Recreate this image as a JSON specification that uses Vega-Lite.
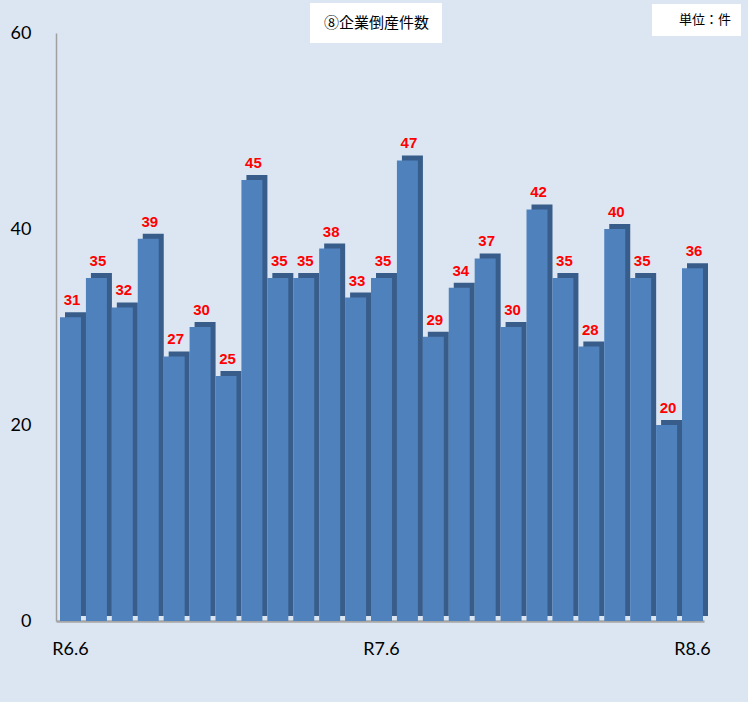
{
  "$schema": "https://vega.github.io/schema/vega-lite/v6.json",
  "autosize": "none",
  "width": 648,
  "height": 588,
  "padding": {"left": 56, "top": 33, "right": 44, "bottom": 81},
  "background": "#DCE6F2",
  "config": {
    "view": {"stroke": null},
    "axis": {"labelFont": "Lato", "labelFontSize": 18, "labelColor": "#000000", "ticks": false, "grid": false, "title": null}
  },
  "data": {
    "values": [
      {"month": "R6.6", "count": 31, "series": "⑧企業倒産件数", "unit": "単位：件"},
      {"month": "R6.7", "count": 35, "series": "⑧企業倒産件数", "unit": "単位：件"},
      {"month": "R6.8", "count": 32, "series": "⑧企業倒産件数", "unit": "単位：件"},
      {"month": "R6.9", "count": 39, "series": "⑧企業倒産件数", "unit": "単位：件"},
      {"month": "R6.10", "count": 27, "series": "⑧企業倒産件数", "unit": "単位：件"},
      {"month": "R6.11", "count": 30, "series": "⑧企業倒産件数", "unit": "単位：件"},
      {"month": "R6.12", "count": 25, "series": "⑧企業倒産件数", "unit": "単位：件"},
      {"month": "R7.1", "count": 45, "series": "⑧企業倒産件数", "unit": "単位：件"},
      {"month": "R7.2", "count": 35, "series": "⑧企業倒産件数", "unit": "単位：件"},
      {"month": "R7.3", "count": 35, "series": "⑧企業倒産件数", "unit": "単位：件"},
      {"month": "R7.4", "count": 38, "series": "⑧企業倒産件数", "unit": "単位：件"},
      {"month": "R7.5", "count": 33, "series": "⑧企業倒産件数", "unit": "単位：件"},
      {"month": "R7.6", "count": 35, "series": "⑧企業倒産件数", "unit": "単位：件"},
      {"month": "R7.7", "count": 47, "series": "⑧企業倒産件数", "unit": "単位：件"},
      {"month": "R7.8", "count": 29, "series": "⑧企業倒産件数", "unit": "単位：件"},
      {"month": "R7.9", "count": 34, "series": "⑧企業倒産件数", "unit": "単位：件"},
      {"month": "R7.10", "count": 37, "series": "⑧企業倒産件数", "unit": "単位：件"},
      {"month": "R7.11", "count": 30, "series": "⑧企業倒産件数", "unit": "単位：件"},
      {"month": "R7.12", "count": 42, "series": "⑧企業倒産件数", "unit": "単位：件"},
      {"month": "R8.1", "count": 35, "series": "⑧企業倒産件数", "unit": "単位：件"},
      {"month": "R8.2", "count": 28, "series": "⑧企業倒産件数", "unit": "単位：件"},
      {"month": "R8.3", "count": 40, "series": "⑧企業倒産件数", "unit": "単位：件"},
      {"month": "R8.4", "count": 35, "series": "⑧企業倒産件数", "unit": "単位：件"},
      {"month": "R8.5", "count": 20, "series": "⑧企業倒産件数", "unit": "単位：件"},
      {"month": "R8.6", "count": 36, "series": "⑧企業倒産件数", "unit": "単位：件"}
    ]
  },
  "encoding": {
    "x": {
      "field": "month",
      "type": "ordinal",
      "sort": null,
      "scale": {"paddingInner": 0.19, "paddingOuter": 0.0965, "align": 0.8},
      "axis": {
        "values": ["R6.6", "R7.6", "R8.6"],
        "labelAngle": 0,
        "labelPadding": 19,
        "domainColor": "#A6A6A6",
        "domainWidth": 2.5
      }
    },
    "y": {
      "field": "count",
      "type": "quantitative",
      "scale": {"domain": [0, 60], "nice": false},
      "axis": {
        "values": [0, 20, 40, 60],
        "labelPadding": 25,
        "domainColor": "#A0A0A0",
        "domainWidth": 1.5
      }
    }
  },
  "layer": [
    {
      "mark": {"type": "bar", "xOffset": 5, "yOffset": -5},
      "encoding": {
        "color": {
          "field": "unit",
          "type": "nominal",
          "scale": {"range": ["#385D8A"]},
          "legend": {
            "orient": "none",
            "legendX": 596,
            "legendY": -29,
            "title": null,
            "fillColor": "#FFFFFF",
            "padding": 9,
            "symbolSize": 196,
            "symbolOpacity": 0,
            "symbolStrokeWidth": 0,
            "labelOffset": 4,
            "labelFont": "Noto Sans CJK JP",
            "labelFontSize": 13,
            "labelColor": "#000000"
          }
        }
      }
    },
    {
      "mark": {"type": "bar"},
      "encoding": {
        "color": {
          "field": "series",
          "type": "nominal",
          "scale": {"range": ["#4F81BD"]},
          "legend": {
            "orient": "none",
            "legendX": 254,
            "legendY": -30,
            "title": null,
            "fillColor": "#FFFFFF",
            "padding": 12,
            "symbolSize": 0.01,
            "symbolOpacity": 0,
            "symbolStrokeWidth": 0,
            "labelOffset": -13,
            "labelFont": "Noto Sans CJK JP",
            "labelFontSize": 15,
            "labelColor": "#000000"
          }
        }
      }
    },
    {
      "mark": {
        "type": "text",
        "baseline": "bottom",
        "dy": -9,
        "dx": 1.5,
        "font": "Liberation Sans",
        "fontSize": 15,
        "fontWeight": "bold",
        "color": "#FF0000"
      },
      "encoding": {"text": {"field": "count", "type": "quantitative"}}
    }
  ],
  "resolve": {"scale": {"color": "independent"}}
}
